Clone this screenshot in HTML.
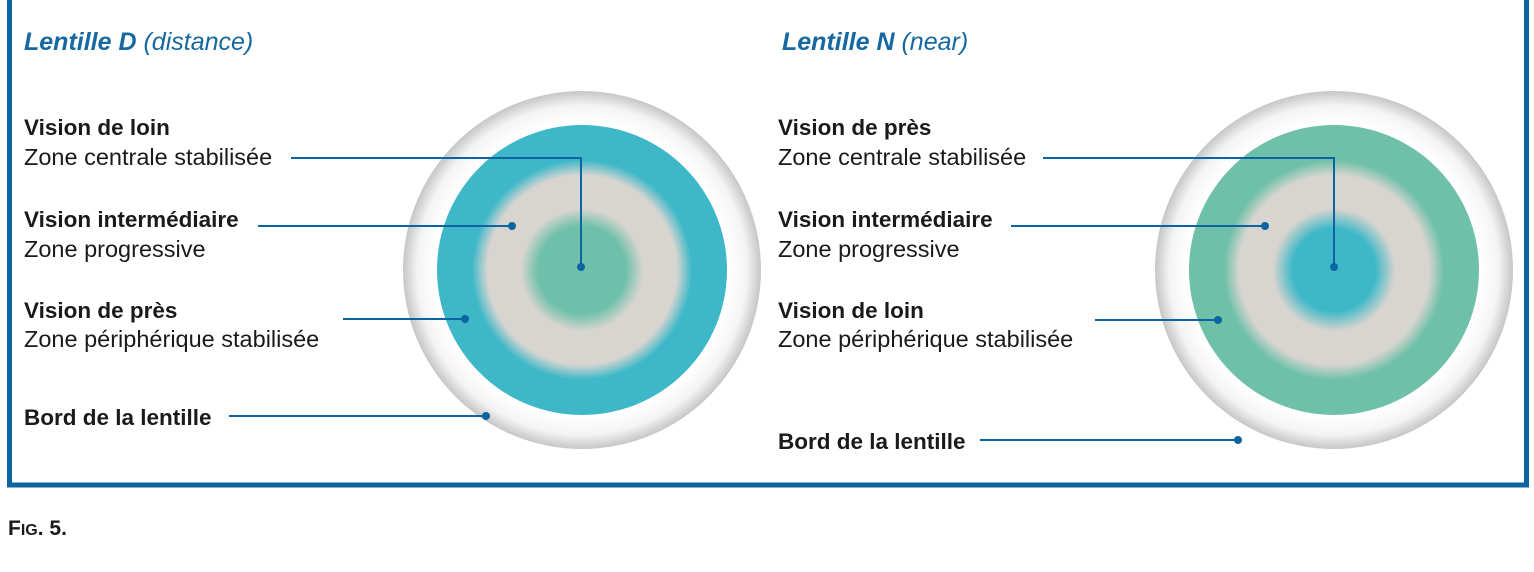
<!DOCTYPE html>
<html><head><meta charset="utf-8"><style>
html,body{margin:0;padding:0;background:#fff;}
svg{display:block;}
text{font-family:"Liberation Sans",sans-serif;}
</style></head><body>
<svg width="1534" height="572" viewBox="0 0 1534 572" xmlns="http://www.w3.org/2000/svg">
<defs>
<radialGradient id="rim" cx="0.5" cy="0.5" r="0.5">
<stop offset="0.82" stop-color="#ffffff"/>
<stop offset="0.92" stop-color="#f4f4f4"/>
<stop offset="1" stop-color="#c6c6c6"/>
</radialGradient>
<radialGradient id="gT" cx="0.5" cy="0.5" r="0.5">
<stop offset="0" stop-color="#d8d5d1"/>
<stop offset="0.86" stop-color="#d8d5d1"/>
<stop offset="1" stop-color="#3eb8c8"/>
</radialGradient>
<radialGradient id="gG" cx="0.5" cy="0.5" r="0.5">
<stop offset="0" stop-color="#d8d5d1"/>
<stop offset="0.86" stop-color="#d8d5d1"/>
<stop offset="1" stop-color="#6fc0a8"/>
</radialGradient>
<radialGradient id="cG" cx="0.5" cy="0.5" r="0.5">
<stop offset="0" stop-color="#6fc0aa"/>
<stop offset="0.72" stop-color="#6fc0aa"/>
<stop offset="1" stop-color="#d6d4cf"/>
</radialGradient>
<radialGradient id="cB" cx="0.5" cy="0.5" r="0.5">
<stop offset="0" stop-color="#3eb8c8"/>
<stop offset="0.68" stop-color="#3eb8c8"/>
<stop offset="1" stop-color="#d6d4cf"/>
</radialGradient>
</defs>
<rect x="9.5" y="-10" width="1517" height="495" fill="none" stroke="#0c65a0" stroke-width="5"/>

<text x="24" y="50" font-size="25" font-weight="bold" font-style="italic" fill="#1669a0">Lentille D <tspan font-weight="normal">(distance)</tspan></text>
<text x="782" y="50" font-size="25" font-weight="bold" font-style="italic" fill="#1669a0">Lentille N <tspan font-weight="normal">(near)</tspan></text>

<circle cx="582" cy="270" r="179" fill="url(#rim)"/>
<circle cx="582" cy="270" r="145" fill="#3eb8c8"/>
<circle cx="582" cy="270" r="110" fill="url(#gT)"/>
<circle cx="582" cy="270" r="61" fill="url(#cG)"/>
<circle cx="1334" cy="270" r="179" fill="url(#rim)"/>
<circle cx="1334" cy="270" r="145" fill="#6fc0a8"/>
<circle cx="1334" cy="270" r="110" fill="url(#gG)"/>
<circle cx="1334" cy="270" r="61" fill="url(#cB)"/>

<g font-size="23.5" fill="#1a1a1a">
<text x="24" y="135" font-weight="bold" font-size="22.5">Vision de loin</text>
<text x="24" y="165">Zone centrale stabilisée</text>
<text x="24" y="227" font-weight="bold" font-size="22.5">Vision intermédiaire</text>
<text x="24" y="257">Zone progressive</text>
<text x="24" y="318" font-weight="bold" font-size="22.5">Vision de près</text>
<text x="24" y="347">Zone périphérique stabilisée</text>
<text x="24" y="425" font-weight="bold" font-size="22.5">Bord de la lentille</text>

<text x="778" y="135" font-weight="bold" font-size="22.5">Vision de près</text>
<text x="778" y="165">Zone centrale stabilisée</text>
<text x="778" y="227" font-weight="bold" font-size="22.5">Vision intermédiaire</text>
<text x="778" y="257">Zone progressive</text>
<text x="778" y="318" font-weight="bold" font-size="22.5">Vision de loin</text>
<text x="778" y="347">Zone périphérique stabilisée</text>
<text x="778" y="449" font-weight="bold" font-size="22.5">Bord de la lentille</text>
</g>

<g stroke="#0c65a0" stroke-width="2" fill="none">
<polyline points="291,158 581,158 581,267"/>
<line x1="258" y1="226" x2="512" y2="226"/>
<line x1="343" y1="319" x2="465" y2="319"/>
<line x1="229" y1="416" x2="486" y2="416"/>
<polyline points="1043,158 1334,158 1334,267"/>
<line x1="1011" y1="226" x2="1265" y2="226"/>
<line x1="1095" y1="320" x2="1218" y2="320"/>
<line x1="980" y1="440" x2="1238" y2="440"/>
</g>
<g fill="#0c65a0">
<circle cx="581" cy="267" r="4"/><circle cx="512" cy="226" r="4"/><circle cx="465" cy="319" r="4"/><circle cx="486" cy="416" r="4"/>
<circle cx="1334" cy="267" r="4"/><circle cx="1265" cy="226" r="4"/><circle cx="1218" cy="320" r="4"/><circle cx="1238" cy="440" r="4"/>
</g>

<text x="8" y="535" font-size="21" font-weight="bold" fill="#1a1a1a">F<tspan font-size="16">IG</tspan>. 5.</text>
</svg>
</body></html>
